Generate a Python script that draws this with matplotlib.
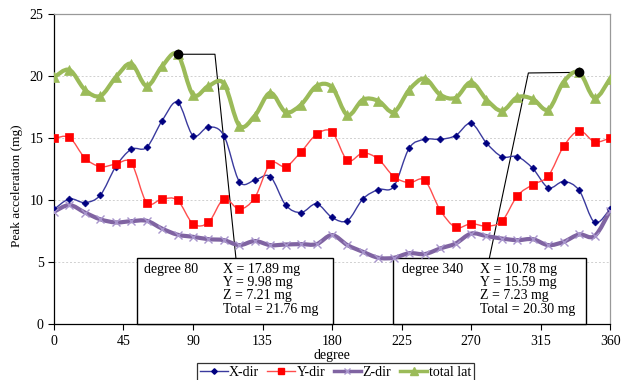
import numpy as np
import matplotlib
matplotlib.use("Agg")
import matplotlib.pyplot as plt
from matplotlib.path import Path
from matplotlib.patches import PathPatch, Rectangle
from matplotlib.lines import Line2D

plt.rcParams['font.family'] = ['Liberation Serif', 'DejaVu Serif']

degrees = list(range(0, 361, 10))
x_dir = [9.25, 10.1, 9.8, 10.4, 12.7, 14.1, 14.25, 16.4, 17.89, 15.2, 15.9, 15.2,
         11.5, 11.6, 11.9, 9.6, 9.0, 9.7, 8.6, 8.35, 10.1, 10.85, 11.1, 14.2,
         14.9, 14.9, 15.2, 16.2, 14.6, 13.5, 13.5, 12.55, 11.0, 11.5, 10.78, 8.2, 9.27]
y_dir = [14.97, 15.05, 13.4, 12.7, 12.9, 13.0, 9.8, 10.1, 9.98, 8.1, 8.2, 10.1,
         9.27, 10.2, 12.95, 12.7, 13.9, 15.3, 15.5, 13.2, 13.8, 13.3, 11.9, 11.4,
         11.6, 9.2, 7.8, 8.1, 7.9, 8.3, 10.35, 11.25, 11.95, 14.35, 15.59, 14.7, 15.0]
z_dir = [9.06, 9.6, 9.0, 8.45, 8.2, 8.3, 8.33, 7.7, 7.21, 7.04, 6.85, 6.77,
         6.37, 6.7, 6.37, 6.42, 6.45, 6.45, 7.18, 6.37, 5.83, 5.35, 5.35, 5.72,
         5.65, 6.1, 6.5, 7.3, 7.1, 6.9, 6.77, 6.85, 6.37, 6.64, 7.23, 7.1, 9.14]
total_lat = [19.9, 20.5, 18.9, 18.4, 19.9, 21.0, 19.2, 20.8, 21.76, 18.5, 19.2, 19.4,
             16.0, 16.8, 18.65, 17.1, 17.7, 19.2, 19.1, 16.85, 18.1, 18.0, 17.1, 18.9,
             19.8, 18.5, 18.25, 19.5, 18.1, 17.2, 18.3, 18.15, 17.3, 19.55, 20.3, 18.25, 19.8]

x_ticks = [0, 45, 90, 135, 180, 225, 270, 315, 360]
y_ticks = [0, 5, 10, 15, 20, 25]

highlight_deg = [80, 340]
highlight_total = [21.76, 20.3]
note1_head = "degree 80"
note1_lines = ["X = 17.89 mg", "Y = 9.98 mg", "Z = 7.21 mg", "Total = 21.76 mg"]
note2_head = "degree 340"
note2_lines = ["X = 10.78 mg", "Y = 15.59 mg", "Z = 7.23 mg", "Total = 20.30 mg"]


def smooth_path(xs, ys):
    xs = np.asarray(xs, float)
    ys = np.asarray(ys, float)
    pts = np.column_stack([xs, ys])
    n = len(pts)
    verts = [pts[0]]
    codes = [Path.MOVETO]
    for i in range(n - 1):
        p0 = pts[i - 1] if i > 0 else pts[i]
        p1 = pts[i]
        p2 = pts[i + 1]
        p3 = pts[i + 2] if i + 2 < n else pts[i + 1]
        c1 = p1 + (p2 - p0) / 6.0
        c2 = p2 - (p3 - p1) / 6.0
        verts += [c1, c2, p2]
        codes += [Path.CURVE4] * 3
    return Path(verts, codes)


fig = plt.figure(figsize=(6.27, 3.80), dpi=100)
ax = fig.add_axes([0.0861, 0.147, 0.8869, 0.816])

ax.set_xlim(0, 360)
ax.set_ylim(0, 25)

series = [
    (x_dir, '#3a3a9e', 1.0, 'D', '#000080', 3.5),
    (y_dir, '#ff4d4d', 1.0, 's', '#ff0000', 5.5),
    (z_dir, '#8064A2', 3.0, 'x', '#a895cc', 5.5),
    (total_lat, '#9BBB59', 3.0, '^', '#9BBB59', 6.5),
]
labels = ["X-dir", "Y-dir", "Z-dir", "total lat"]

handles = []
for vals, lc, lw, mk, mc, ms in series:
    patch = PathPatch(smooth_path(degrees, vals), facecolor='none', edgecolor=lc,
                      lw=lw, zorder=4, capstyle='round', joinstyle='round')
    ax.add_patch(patch)
    ax.plot(degrees, vals, linestyle='none', marker=mk, color=mc, markersize=ms,
            markeredgewidth=1.0 if mk == 'x' else 0.5, zorder=5)
    handles.append(Line2D([], [], color=lc, lw=lw if lw < 2 else 2.5, marker=mk,
                          markerfacecolor=mc, markeredgecolor=mc, markersize=ms * 0.8))

ax.plot(highlight_deg, highlight_total, linestyle='none', marker='o', color='black',
        markersize=6, zorder=6)

# connector lines
ax.plot([highlight_deg[0], 104.2, 117.8], [highlight_total[0], 21.76, 5.3],
        color='black', lw=0.8, zorder=3)
ax.plot([highlight_deg[1], 307.1, 281.9], [highlight_total[1], 20.25, 5.35],
        color='black', lw=0.8, zorder=3)

# note boxes
for x0, x1 in [(53.5, 180.6), (219.5, 344.5)]:
    ax.add_patch(Rectangle((x0, 0), x1 - x0, 5.3, facecolor='white', edgecolor='black',
                           lw=1.0, zorder=3.5, clip_on=False))

fs = 10.0
ytop = 4.95
ax.text(58.0, ytop, note1_head, fontsize=fs, va='top', ha='left', zorder=7)
ax.text(109.5, ytop, "\n".join(note1_lines), fontsize=fs, va='top', ha='left',
        linespacing=1.03, zorder=7)
ax.text(225.0, ytop, note2_head, fontsize=fs, va='top', ha='left', zorder=7)
ax.text(275.5, ytop, "\n".join(note2_lines), fontsize=fs, va='top', ha='left',
        linespacing=1.03, zorder=7)

ax.set_xticks(x_ticks)
ax.set_yticks(y_ticks)
ax.tick_params(axis='both', direction='out', length=4, width=0.8, labelsize=10, color='black')
ax.yaxis.grid(True, color='#d0d0d0', linestyle=(0, (2, 2)), lw=0.7)
ax.set_axisbelow(True)

for s in ['left', 'bottom']:
    ax.spines[s].set_color('black')
    ax.spines[s].set_linewidth(0.9)
for s in ['top', 'right']:
    ax.spines[s].set_color('#999999')
    ax.spines[s].set_linewidth(0.9)

ax.set_xlabel("degree", fontsize=10, labelpad=1)
ax.set_ylabel("Peak acceleration (mg)", fontsize=9.5)
ax.yaxis.set_label_coords(-0.055, 0.445)

leg = fig.legend(handles, labels, loc='upper left',
                 bbox_to_anchor=(197 / 627, 1 - 363 / 380), ncol=4, frameon=True,
                 fancybox=False, edgecolor='black', fontsize=10, handlelength=2.0,
                 handletextpad=0.1, columnspacing=0.6, borderpad=0.2,
                 borderaxespad=0.0)
leg.get_frame().set_linewidth(0.9)

fig.savefig("out.png", dpi=100)
